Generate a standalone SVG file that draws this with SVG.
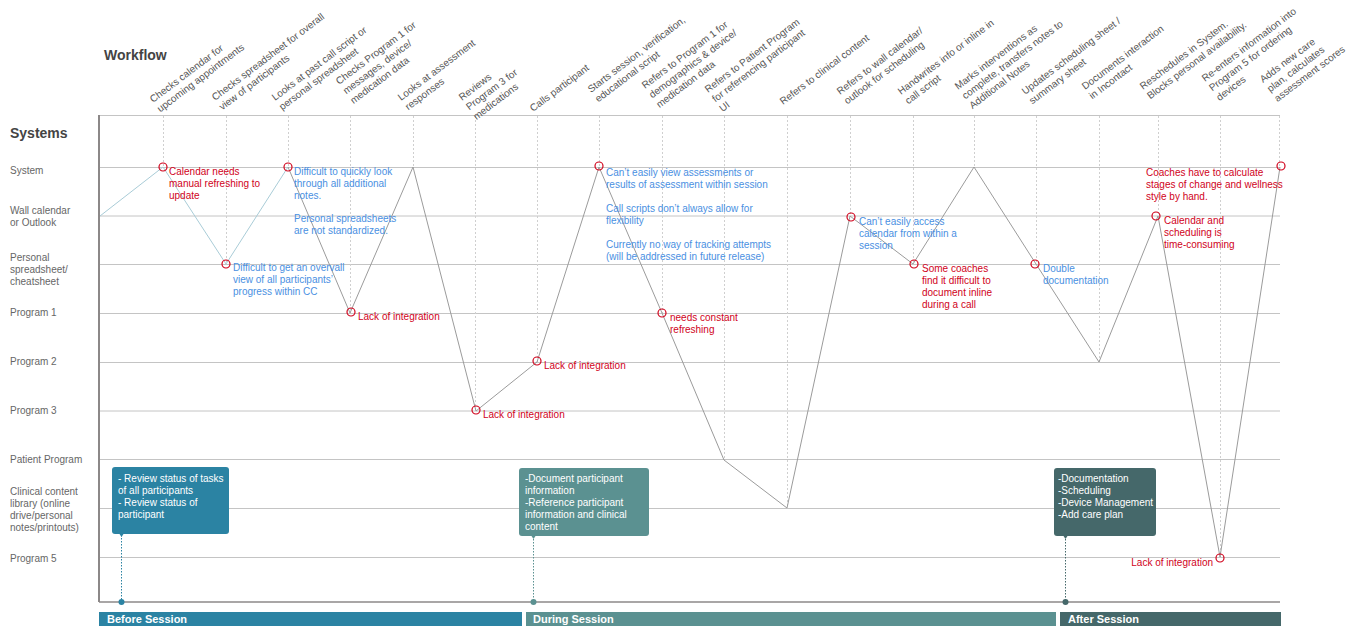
<svg xmlns="http://www.w3.org/2000/svg" width="1367" height="640" viewBox="0 0 1367 640">
<style>
text{font-family:"Liberation Sans",Arial,Helvetica,sans-serif;font-size:10px}
.h{font-size:14px;font-weight:bold;fill:#444}
.lbl{fill:#555}
.row{fill:#666}
.red{fill:#D0021B}
.blue{fill:#4A90E2}
.bt{fill:#fff}
.bar{fill:#fff;font-size:11px;font-weight:bold}
.grid{stroke:#c4c4c4;stroke-width:1;fill:none}
.guide{stroke:#cfcfcf;stroke-width:1;stroke-dasharray:2 2;fill:none}
.pain{fill:none;stroke:#D0021B;stroke-width:1.2}
.jl{fill:none;stroke:#9b9b9b;stroke-width:1}
.jb{fill:none;stroke:#a9ccd7;stroke-width:1}
.dot{fill:none;stroke-width:1;stroke-dasharray:1.5 1.5}
</style>
<rect width="1367" height="640" fill="#fff"/>
<text class="h" x="104" y="60">Workflow</text>
<text class="h" x="10" y="138">Systems</text>

<g id="grid">
<line class="grid" x1="99" y1="115.5" x2="1280" y2="115.5"/>
<line class="grid" x1="99" y1="167.5" x2="1280" y2="167.5"/>
<line class="grid" x1="99" y1="216" x2="1280" y2="216"/>
<line class="grid" x1="99" y1="264.5" x2="1280" y2="264.5"/>
<line class="grid" x1="99" y1="313.5" x2="1280" y2="313.5"/>
<line class="grid" x1="99" y1="362.5" x2="1280" y2="362.5"/>
<line class="grid" x1="99" y1="411" x2="1280" y2="411"/>
<line class="grid" x1="99" y1="459.5" x2="1280" y2="459.5"/>
<line class="grid" x1="99" y1="508.5" x2="1280" y2="508.5"/>
<line class="grid" x1="99" y1="557.5" x2="1280" y2="557.5"/>
<line x1="99" y1="602" x2="1280" y2="602" stroke="#8c8888" stroke-width="1.5"/>
<line x1="99" y1="115" x2="99" y2="602" stroke="#8c8888" stroke-width="2"/>
</g>

<g id="row-labels">
<text class="row" x="10" y="174">System</text>
<text class="row" x="10" y="214">Wall calendar<tspan x="10" y="226">or Outlook</tspan></text>
<text class="row" x="10" y="261">Personal<tspan x="10" y="273">spreadsheet/</tspan><tspan x="10" y="285">cheatsheet</tspan></text>
<text class="row" x="10" y="316">Program 1</text>
<text class="row" x="10" y="365">Program 2</text>
<text class="row" x="10" y="414">Program 3</text>
<text class="row" x="10" y="463">Patient Program</text>
<text class="row" x="10" y="495">Clinical content<tspan x="10" y="507">library (online</tspan><tspan x="10" y="519">drive/personal</tspan><tspan x="10" y="531">notes/printouts)</tspan></text>
<text class="row" x="10" y="562">Program 5</text>
</g>

<g id="guides">
<line class="guide" x1="163.5" y1="116" x2="163.5" y2="167"/>
<line class="guide" x1="226.5" y1="116" x2="226.5" y2="264"/>
<line class="guide" x1="288.5" y1="116" x2="288.5" y2="167"/>
<line class="guide" x1="350.5" y1="116" x2="350.5" y2="313"/>
<line class="guide" x1="413.5" y1="116" x2="413.5" y2="167"/>
<line class="guide" x1="475.5" y1="116" x2="475.5" y2="411"/>
<line class="guide" x1="537.5" y1="116" x2="537.5" y2="362"/>
<line class="guide" x1="599.5" y1="116" x2="599.5" y2="167"/>
<line class="guide" x1="662.5" y1="116" x2="662.5" y2="313"/>
<line class="guide" x1="724.5" y1="116" x2="724.5" y2="460"/>
<line class="guide" x1="787.5" y1="116" x2="787.5" y2="508"/>
<line class="guide" x1="850.5" y1="116" x2="850.5" y2="216"/>
<line class="guide" x1="913.5" y1="116" x2="913.5" y2="264"/>
<line class="guide" x1="974.5" y1="116" x2="974.5" y2="167"/>
<line class="guide" x1="1036.5" y1="116" x2="1036.5" y2="264"/>
<line class="guide" x1="1099.5" y1="116" x2="1099.5" y2="362"/>
<line class="guide" x1="1158.5" y1="116" x2="1158.5" y2="216"/>
<line class="guide" x1="1220.5" y1="116" x2="1220.5" y2="557"/>
<line class="guide" x1="1279.5" y1="116" x2="1279.5" y2="167"/>
</g>

<g id="steps">
<g id="step1" transform="translate(153,103) rotate(-37)"><text class="lbl"><tspan x="0" y="0">Checks calendar for</tspan><tspan x="0" y="12">upcoming appointments</tspan></text></g>
<g id="step2" transform="translate(215,101) rotate(-37)"><text class="lbl"><tspan x="0" y="0">Checks spreadsheet for overall</tspan><tspan x="0" y="12">view of participants</tspan></text></g>
<g id="step3" transform="translate(275,101) rotate(-37)"><text class="lbl"><tspan x="0" y="0">Looks at past call script or</tspan><tspan x="0" y="12">personal spreadsheet</tspan></text></g>
<g id="step4" transform="translate(339,85) rotate(-37)"><text class="lbl"><tspan x="0" y="0">Checks Program 1 for</tspan><tspan x="0" y="12">messages, device/</tspan><tspan x="0" y="24">medication data</tspan></text></g>
<g id="step5" transform="translate(401,101) rotate(-37)"><text class="lbl"><tspan x="0" y="0">Looks at assessment</tspan><tspan x="0" y="12">responses</tspan></text></g>
<g id="step6" transform="translate(462,101) rotate(-37)"><text class="lbl"><tspan x="0" y="0">Reviews</tspan><tspan x="0" y="12">Program 3 for</tspan><tspan x="0" y="24">medications</tspan></text></g>
<g id="step7" transform="translate(533,112) rotate(-37)"><text class="lbl"><tspan x="0" y="0">Calls participant</tspan></text></g>
<g id="step8" transform="translate(591,93) rotate(-37)"><text class="lbl"><tspan x="0" y="0">Starts session, verification,</tspan><tspan x="0" y="12">educational script</tspan></text></g>
<g id="step9" transform="translate(645,89) rotate(-37)"><text class="lbl"><tspan x="0" y="0">Refers to Program 1 for</tspan><tspan x="0" y="12">demographics &amp; device/</tspan><tspan x="0" y="24">medication data</tspan></text></g>
<g id="step10" transform="translate(708,93) rotate(-37)"><text class="lbl"><tspan x="0" y="0">Refers to Patient Program</tspan><tspan x="0" y="12">for referencing participant</tspan><tspan x="0" y="24">UI</tspan></text></g>
<g id="step11" transform="translate(783,105) rotate(-37)"><text class="lbl"><tspan x="0" y="0">Refers to clinical content</tspan></text></g>
<g id="step12" transform="translate(840,95) rotate(-37)"><text class="lbl"><tspan x="0" y="0">Refers to wall calendar/</tspan><tspan x="0" y="12">outlook for scheduling</tspan></text></g>
<g id="step13" transform="translate(901,95) rotate(-37)"><text class="lbl"><tspan x="0" y="0">Handwrites info or inline in</tspan><tspan x="0" y="12">call script</tspan></text></g>
<g id="step14" transform="translate(958,90) rotate(-37)"><text class="lbl"><tspan x="0" y="0">Marks interventions as</tspan><tspan x="0" y="12">complete, transfers notes to</tspan><tspan x="0" y="24">Additional Notes</tspan></text></g>
<g id="step15" transform="translate(1025,95) rotate(-37)"><text class="lbl"><tspan x="0" y="0">Updates scheduling sheet /</tspan><tspan x="0" y="12">summary sheet</tspan></text></g>
<g id="step16" transform="translate(1085,90) rotate(-37)"><text class="lbl"><tspan x="0" y="0">Documents interaction</tspan><tspan x="0" y="12">in Incontact</tspan></text></g>
<g id="step17" transform="translate(1143,90) rotate(-37)"><text class="lbl"><tspan x="0" y="0">Reschedules in System.</tspan><tspan x="0" y="12">Blocks personal availability.</tspan></text></g>
<g id="step18" transform="translate(1205,82) rotate(-37)"><text class="lbl"><tspan x="0" y="0">Re-enters information into</tspan><tspan x="0" y="12">Program 5 for ordering</tspan><tspan x="0" y="24">devices</tspan></text></g>
<g id="step19" transform="translate(1263,83) rotate(-37)"><text class="lbl"><tspan x="0" y="0">Adds new care</tspan><tspan x="0" y="12">plan, calculates</tspan><tspan x="0" y="24">assessment scores</tspan></text></g>
</g>

<g id="connectors">
<polyline class="jb" points="100,216 163,167 226,264 288,167"/>
<polyline class="jl" points="288,167 350,313 413,167 476,411 537,362 599,167 662,313 724,460 787,508 850,216 913,264 974,167 1036,264 1099,362 1158,216 1220,557 1280,167"/>
<line class="dot" stroke="#2b83a3" x1="121.5" y1="535" x2="121.5" y2="602"/>
<line class="dot" stroke="#5b9191" x1="533.5" y1="536" x2="533.5" y2="602"/>
<line class="dot" stroke="#45686a" x1="1065.5" y1="536" x2="1065.5" y2="602"/>
<circle cx="121.5" cy="602" r="3" fill="#2b83a3"/>
<circle cx="533.5" cy="602" r="3" fill="#5b9191"/>
<circle cx="1065.5" cy="602" r="3" fill="#45686a"/>
</g>

<g id="pain-points">
<g id="p1"><circle class="pain" cx="163" cy="167" r="4"/><text class="red" x="169" y="175">Calendar needs<tspan x="169" y="187">manual refreshing to</tspan><tspan x="169" y="199">update</tspan></text></g>
<g id="p2"><circle class="pain" cx="226" cy="264" r="4"/><text class="blue" x="233" y="271">Difficult to get an overvall<tspan x="233" y="283">view of all participants’</tspan><tspan x="233" y="295">progress within CC</tspan></text></g>
<g id="p3"><circle class="pain" cx="288" cy="167" r="4"/><text class="blue" x="294" y="175">Difficult to quickly look<tspan x="294" y="187">through all additional</tspan><tspan x="294" y="199">notes.</tspan><tspan x="294" y="222">Personal spreadsheets</tspan><tspan x="294" y="234">are not standardized.</tspan></text></g>
<g id="p4"><circle class="pain" cx="351" cy="312" r="4"/><text class="red" x="358" y="320">Lack of integration</text></g>
<g id="p5"><circle class="pain" cx="476" cy="410" r="4"/><text class="red" x="483" y="418">Lack of integration</text></g>
<g id="p6"><circle class="pain" cx="537" cy="361" r="4"/><text class="red" x="544" y="369">Lack of integration</text></g>
<g id="p7"><circle class="pain" cx="599" cy="166" r="4"/><text class="blue" x="606" y="176">Can’t easily view assessments or<tspan x="606" y="188">results of assessment within session</tspan><tspan x="606" y="212">Call scripts don’t always allow for</tspan><tspan x="606" y="224">flexibility</tspan><tspan x="606" y="248">Currently no way of tracking attempts</tspan><tspan x="606" y="260">(will be addressed in future release)</tspan></text></g>
<g id="p8"><circle class="pain" cx="662" cy="313" r="4"/><text class="red" x="670" y="321">needs constant<tspan x="670" y="333">refreshing</tspan></text></g>
<g id="p9"><circle class="pain" cx="851" cy="217" r="4"/><text class="blue" x="859" y="225">Can’t easily access<tspan x="859" y="237">calendar from within a</tspan><tspan x="859" y="249">session</tspan></text></g>
<g id="p10"><circle class="pain" cx="914" cy="264" r="4"/><text class="red" x="922" y="272">Some coaches<tspan x="922" y="284">find it difficult to</tspan><tspan x="922" y="296">document inline</tspan><tspan x="922" y="308">during a call</tspan></text></g>
<g id="p11"><circle class="pain" cx="1035" cy="264" r="4"/><text class="blue" x="1043" y="272">Double<tspan x="1043" y="284">documentation</tspan></text></g>
<g id="p12"><circle class="pain" cx="1156" cy="216" r="4"/><text class="red" x="1164" y="224">Calendar and<tspan x="1164" y="236">scheduling is</tspan><tspan x="1164" y="248">time-consuming</tspan></text></g>
<g id="p13"><circle class="pain" cx="1220" cy="558" r="4"/><text class="red" x="1213" y="566" text-anchor="end">Lack of integration</text></g>
<g id="p14"><circle class="pain" cx="1281" cy="166" r="4"/><text class="red" x="1146" y="176">Coaches have to calculate<tspan x="1146" y="188">stages of change and wellness</tspan><tspan x="1146" y="200">style by hand.</tspan></text></g>
</g>

<g id="before-box">
<rect x="112" y="467" width="117" height="67" rx="3" fill="#2b83a3"/>
<path d="M119.5,534 L121.5,537 L123.5,534 Z" fill="#2b83a3"/>
<text class="bt" x="118" y="482">- Review status of tasks<tspan x="118" y="494">of all participants</tspan><tspan x="118" y="506">- Review status of</tspan><tspan x="118" y="518">participant</tspan></text>
</g>
<g id="during-box">
<rect x="519" y="468" width="130" height="68" rx="3" fill="#5b9191"/>
<path d="M531.5,536 L533.5,539 L535.5,536 Z" fill="#5b9191"/>
<text class="bt" x="525" y="482">-Document participant<tspan x="525" y="494">information</tspan><tspan x="525" y="506">-Reference participant</tspan><tspan x="525" y="518">information and clinical</tspan><tspan x="525" y="530">content</tspan></text>
</g>
<g id="after-box">
<rect x="1054" y="468" width="102" height="68" rx="3" fill="#45686a"/>
<path d="M1063.5,536 L1065.5,539 L1067.5,536 Z" fill="#45686a"/>
<text class="bt" x="1058" y="482">-Documentation<tspan x="1058" y="494">-Scheduling</tspan><tspan x="1058" y="506">-Device Management</tspan><tspan x="1058" y="518">-Add care plan</tspan></text>
</g>

<g id="phase-before"><rect x="99" y="612" width="423" height="14" fill="#2b83a3"/><text class="bar" x="107" y="623">Before Session</text></g>
<g id="phase-during"><rect x="526" y="612" width="530" height="14" fill="#5b9191"/><text class="bar" x="533" y="623">During Session</text></g>
<g id="phase-after"><rect x="1060" y="612" width="221" height="14" fill="#45686a"/><text class="bar" x="1068" y="623">After Session</text></g>
</svg>
